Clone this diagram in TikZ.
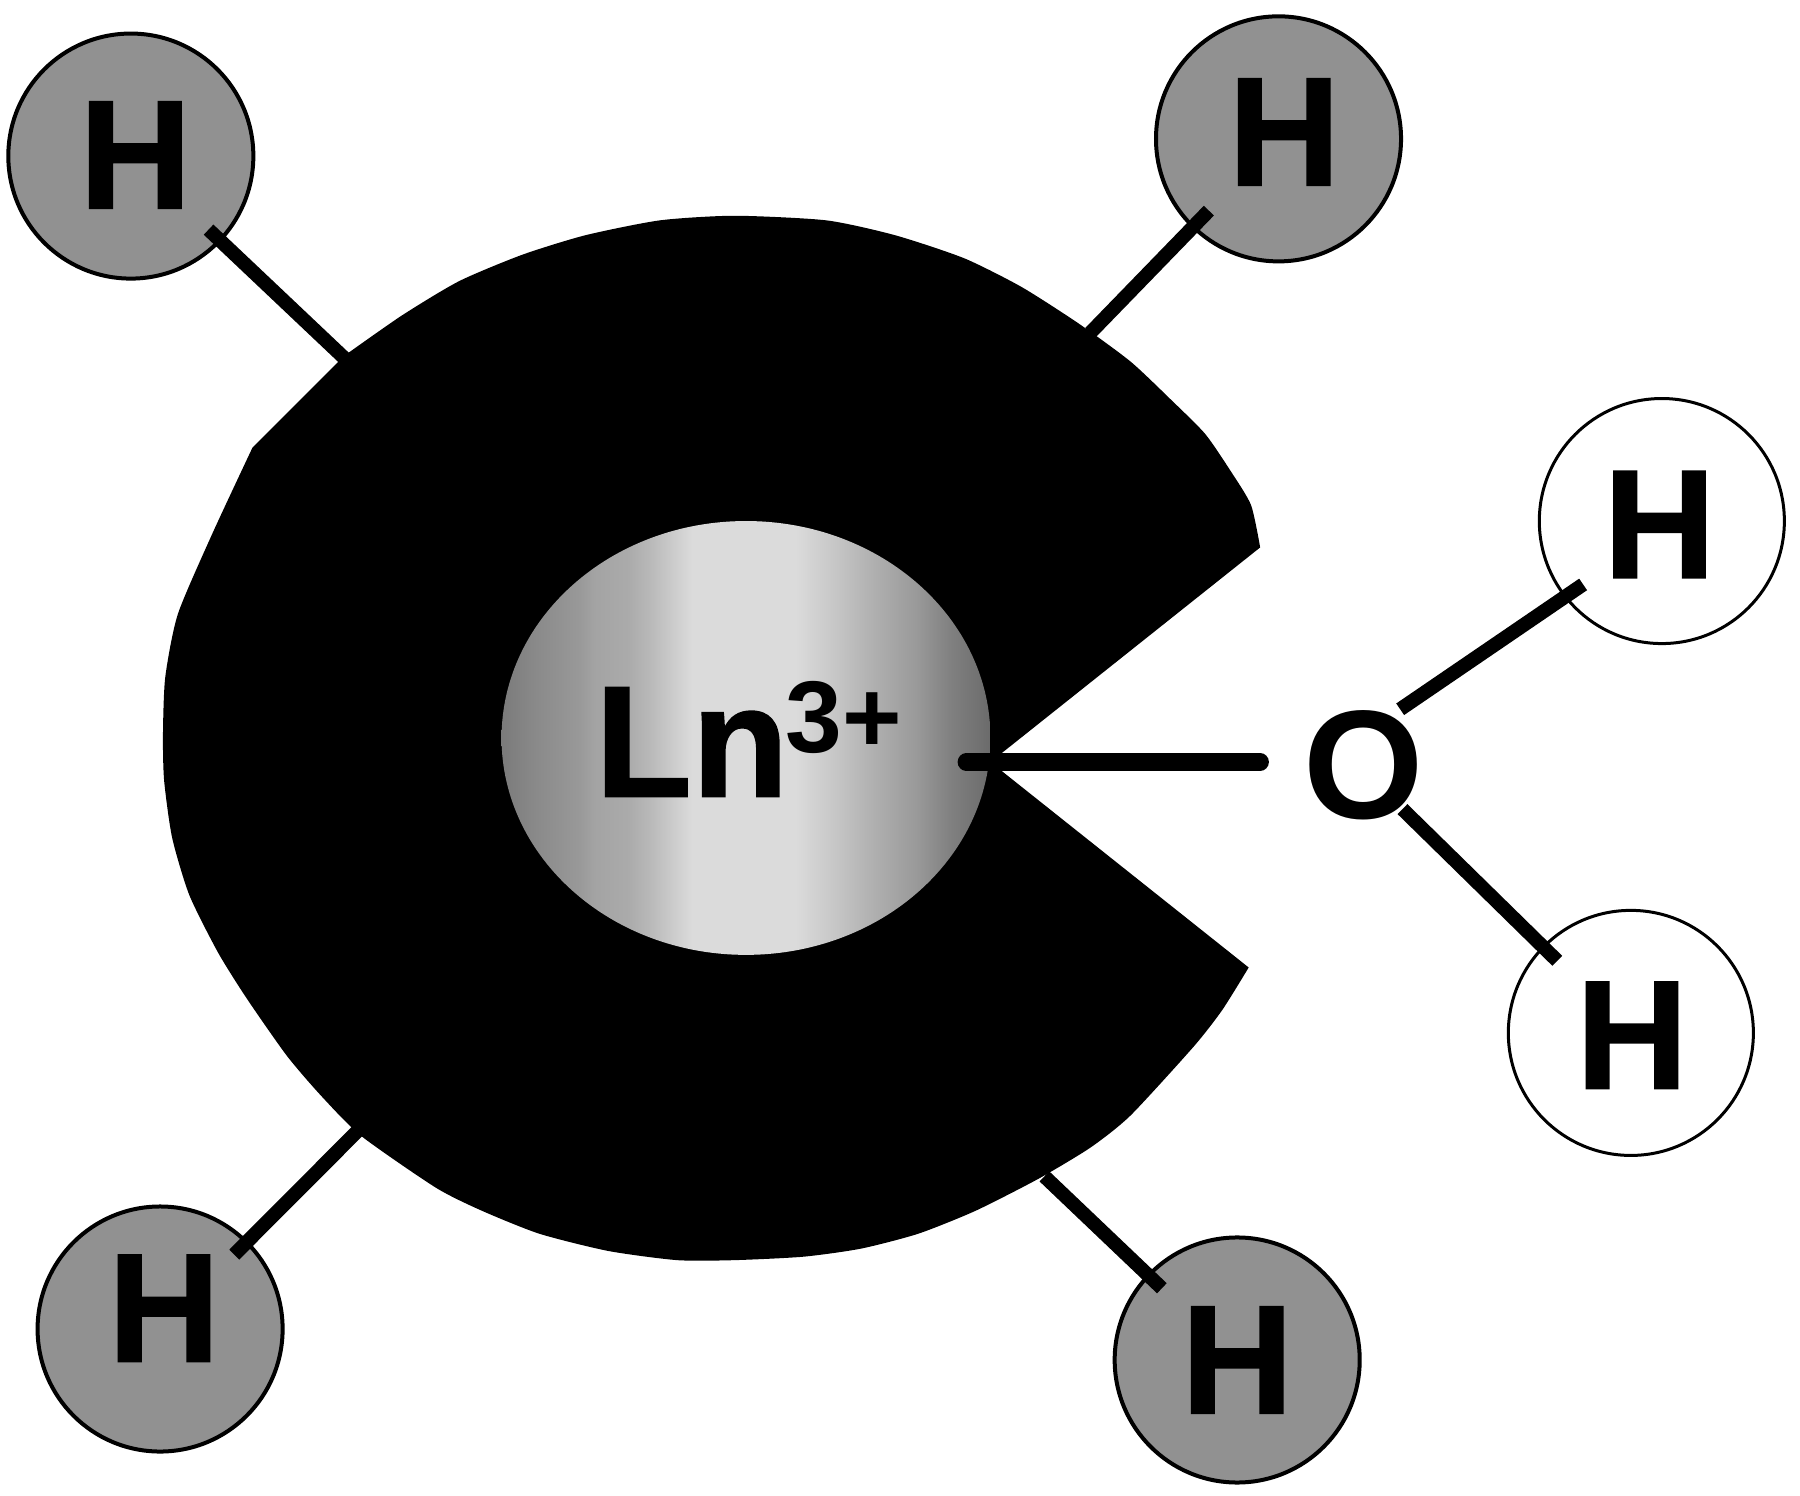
\documentclass[tikz,border=0pt]{standalone}
\usepackage{fontspec}
\setmainfont{Liberation Sans}
\newfontfamily\heavyfont{Liberation Sans Bold}[FakeBold=1.2]
\pgfdeclarehorizontalshading{ionshade}{100bp}{
  color(0bp)=(black!52);
  color(25bp)=(black!52);
  color(28.5bp)=(black!46);
  color(33bp)=(black!40);
  color(34.5bp)=(black!36);
  color(38bp)=(black!33);
  color(40bp)=(black!28);
  color(44.5bp)=(black!14);
  color(55bp)=(black!14);
  color(59bp)=(black!22);
  color(62.5bp)=(black!30);
  color(67.5bp)=(black!40);
  color(71bp)=(black!50);
  color(75bp)=(black!58);
  color(100bp)=(black!58)}
\tikzset{
  atom/.style={circle,draw=black,minimum size=2.45cm,inner sep=0pt},
  boundatom/.style={atom,fill=black!43,line width=0.04cm},
  freeatom/.style={atom,fill=white,line width=0.03cm},
  atomlabel/.style={inner sep=0pt,font=\fontsize{44}{44}\selectfont\heavyfont},
  bond/.style={draw=black,line width=0.14cm},
  thickbond/.style={draw=black,line width=0.175cm,line cap=round}
}
\begin{document}
\begin{tikzpicture}[x=0.011477cm,y=-0.011477cm]
\useasboundingbox (0,0) rectangle (1568.4,1302.7);
% ligand cage
\fill[black] plot[smooth,tension=0.4] coordinates {(1098,477) (1090,440) (1072,410) (1050,378) (1020,348) (985,315) (940,282) (890,250) (840,225) (780,205) (720,192) (640,188) (575,192) (510,205) (455,222) (400,245) (350,275) (300,310)}
  -- (220,390) -- plot[smooth,tension=0.4] coordinates {(220,390) (185,465) (155,535) (144,590) (142,640) (143,680) (150,730) (165,780) (190,830) (215,870) (250,920) (280,955) (315,990) (380,1035) (420,1055) (470,1075) (530,1090) (590,1098) (640,1098) (700,1095) (750,1088) (800,1075) (850,1055) (905,1027) (950,1000) (985,972) (1040,912) (1065,880) (1088,843)}
  -- (863,664) -- cycle;
% ion
\path[shading=ionshade] (650,643) ellipse [x radius=213, y radius=189];
\node[inner sep=0pt,anchor=base west,font=\fontsize{45}{45}\selectfont\heavyfont] (ln) at (518,694) {Ln};
\node[inner sep=0pt,anchor=base west,font=\fontsize{29}{29}\selectfont\bfseries] (charge) at (684,656) {3+};
\coordinate (ionend) at (842,664);
\coordinate (freeend) at (1098,664);
% atoms
\node[boundatom] (h1) at (114,136) {};
\node[boundatom] (h2) at (1114,121) {};
\node[boundatom] (h5) at (139.5,1158) {};
\node[boundatom] (h6) at (1078,1185) {};
\node[freeatom] (h3) at (1448,454) {};
\node[freeatom] (h4) at (1421,900) {};
\node[atomlabel] (t1) at (118,135) {H};
\node[atomlabel] (t2) at (1119,115) {H};
\node[atomlabel] (t3) at (1446,457) {H};
\node[atomlabel] (t4) at (1422,902) {H};
\node[atomlabel] (t5) at (143,1140) {H};
\node[atomlabel] (t6) at (1078,1185) {H};
\node[inner sep=0pt,font=\fontsize{44}{44}\selectfont\bfseries] (o) at (1188,667) {O};
% bond ends
\coordinate (c1) at (300,312);
\coordinate (c2) at (950,290);
\coordinate (c5) at (312,985);
\coordinate (c6) at (910,1025);
\coordinate (ob1) at (1220,618);
\coordinate (ob2) at (1222,705);
% bonds
\draw[bond,shorten <=1.07cm] (h1.center) -- (c1);
\draw[bond,shorten <=1.0cm] (h2.center) -- (c2);
\draw[bond,shorten <=1.05cm] (h5.center) -- (c5);
\draw[bond,shorten <=1.04cm] (h6.center) -- (c6);
\draw[bond,shorten <=-0.23cm] (h3.218.5) -- (ob1);
\draw[bond,shorten <=1.03cm] (h4.center) -- (ob2);
\draw[thickbond] (ionend) -- (freeend);
\end{tikzpicture}
\end{document}
